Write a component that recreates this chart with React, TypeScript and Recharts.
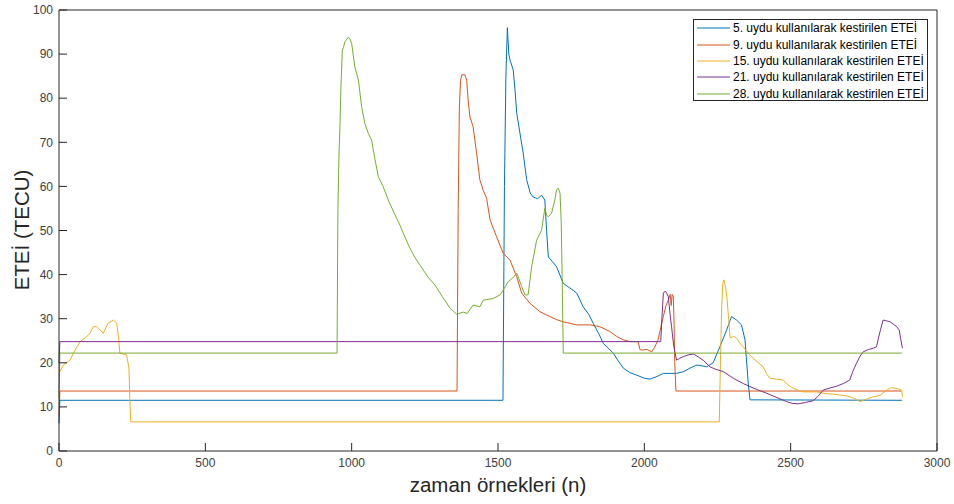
import React from 'react';
import { LineChart, Line, XAxis, YAxis, Legend, Label } from 'recharts';

type P = [number, number];

const xTicks = [0, 500, 1000, 1500, 2000, 2500, 3000];
const yTicks = [0, 10, 20, 30, 40, 50, 60, 70, 80, 90, 100];

const names = [
  '5. uydu kullanılarak kestirilen ETEİ',
  '9. uydu kullanılarak kestirilen ETEİ',
  '15. uydu kullanılarak kestirilen ETEİ',
  '21. uydu kullanılarak kestirilen ETEİ',
  '28. uydu kullanılarak kestirilen ETEİ',
];
const colors = ['#0072BD', '#D95319', '#EDB120', '#7E2F8E', '#77AC30'];

const sat5: P[] = [[0,6.3],[3,11.5],[1517,11.5],[1522,60],[1527,85],[1532,96],[1537,90],[1541,88.7],[1552,86.4],[1558,82],[1564,76.6],[1575,72.1],[1586,67.6],[1598,61.5],[1610,58.5],[1620,57.6],[1635,57.2],[1649,58],[1660,56.9],[1666,50],[1672,44],[1685,43],[1700,41.8],[1723,38],[1745,37],[1769,35.8],[1791,32.7],[1810,31],[1825,29],[1845,26.5],[1860,24.4],[1894,22.2],[1910,20.5],[1928,18.8],[1950,17.8],[1974,17.2],[2000,16.5],[2019,16.3],[2040,16.8],[2065,17.6],[2110,17.6],[2135,18],[2156,18.8],[2180,19.5],[2213,19.1],[2235,20],[2258,23.6],[2281,27.4],[2298,30.5],[2315,29.7],[2332,28.6],[2344,25.2],[2355,15.4],[2361,11.6],[2880,11.5]];

const sat9: P[] = [[0,8],[3,13.6],[1360,13.6],[1364,55],[1368,78],[1372,84],[1376,85.3],[1387,85.3],[1393,84.1],[1398,79.6],[1404,75.8],[1415,73.5],[1427,67.5],[1438,61.5],[1450,59],[1461,57.3],[1473,52.4],[1495,48.6],[1518,44.8],[1541,43.3],[1564,39.5],[1581,35.8],[1609,33.5],[1643,31.6],[1677,30.5],[1700,29.8],[1723,29.3],[1769,28.6],[1814,28.6],[1848,28.2],[1882,27.1],[1905,26],[1928,25.2],[1951,24.8],[1979,24.8],[1985,23],[1991,22.9],[2010,23],[2025,22.5],[2035,23.5],[2047,25.2],[2056,28],[2065,30.5],[2074,33],[2082,34.2],[2088,35.5],[2092,33],[2095,35.5],[2099,35],[2101,30.5],[2104,20],[2108,13.6],[2880,13.6]];

const sat15: P[] = [[0,17.5],[3,18],[15,19.5],[38,20.6],[55,22.9],[72,24.8],[89,25.6],[106,26.7],[117,28.2],[129,28.2],[140,27.5],[151,26.7],[168,29],[186,29.7],[197,29],[203,26],[208,22.2],[220,22],[231,21.8],[239,18.8],[242,12],[245,6.6],[2256,6.6],[2260,20],[2264,32],[2268,38],[2272,38.8],[2278,37],[2283,34.2],[2288,30],[2293,25.6],[2305,26],[2315,25.6],[2326,24.5],[2338,23.6],[2355,22.2],[2372,21],[2390,20],[2406,19.1],[2418,17.5],[2429,16.5],[2450,16.3],[2475,16.1],[2490,15],[2509,14.2],[2525,13.8],[2543,13.4],[2589,13.4],[2620,13],[2646,12.9],[2691,12.5],[2715,12],[2737,11.2],[2760,11.8],[2782,12.3],[2805,12.6],[2828,13.8],[2845,14.4],[2862,14.2],[2879,13.8],[2882,12.3]];

const sat21: P[] = [[0,20],[3,24.8],[2056,24.8],[2060,30],[2065,35.8],[2070,36.2],[2074,36.1],[2082,35],[2088,31],[2093,28.2],[2100,24],[2110,20.6],[2120,21],[2133,21.4],[2150,21.8],[2168,22],[2185,21.3],[2201,20.6],[2224,19.1],[2245,18.5],[2270,18],[2304,16.5],[2338,15.3],[2361,14.6],[2390,13.8],[2418,13.1],[2450,12.2],[2486,11.2],[2505,10.8],[2526,10.7],[2550,11],[2577,11.4],[2595,12.5],[2611,13.8],[2635,14.3],[2657,14.7],[2680,15.3],[2702,16.1],[2712,18],[2725,19.9],[2737,21.5],[2748,22.5],[2765,23],[2782,23.3],[2793,23.6],[2805,27],[2816,29.7],[2828,29.5],[2839,29.3],[2850,28.8],[2862,28.2],[2871,27.4],[2877,25],[2882,23.3]];

const sat28: P[] = [[0,12],[3,22.2],[950,22.2],[953,55],[957,68],[960,73.5],[963,81.9],[968,90.9],[972,91.5],[977,92.8],[988,93.8],[994,93.5],[1000,92.4],[1011,87.1],[1023,84.1],[1034,78.1],[1045,74.3],[1057,72],[1068,70.5],[1080,66],[1091,62.2],[1108,59.9],[1125,56.9],[1145,54],[1165,51.2],[1182,48.5],[1199,46],[1215,44],[1233,42.2],[1260,39.5],[1285,37.6],[1310,35],[1336,32.4],[1359,31],[1381,31.5],[1395,31.2],[1415,33.1],[1438,32.7],[1450,34.2],[1484,34.6],[1507,35.4],[1518,36.5],[1535,38.4],[1550,39.2],[1564,40.3],[1569,39.5],[1581,37.3],[1592,35.4],[1603,35.4],[1615,41.8],[1632,47.8],[1649,50.1],[1660,55],[1666,53.5],[1672,53.1],[1683,53.9],[1694,56.9],[1700,59.2],[1706,59.6],[1712,58.4],[1716,52],[1719,40],[1723,22.2],[2880,22.2]];

const seriesData = [sat5, sat9, sat15, sat21, sat28].map((s) => s.map(([x, y]) => ({ x, y })));

const FONT = '"Liberation Sans", Arial, Helvetica, sans-serif';
const AX = '#262626';
const TXT = '#404040';
const tickText = { fill: TXT, fontSize: 12, fontFamily: FONT };
const tickLn = { stroke: AX, strokeWidth: 1 };
const NoLabel = () => <g />;

const LegendBox = () => (
  <div
    style={{
      background: '#fff',
      border: `1px solid ${AX}`,
      width: 235,
      height: 82,
      boxSizing: 'border-box',
      padding: '0px 0 0 3px',
      fontFamily: FONT,
      fontSize: 12,
      color: '#000',
    }}
  >
    {names.map((n, i) => (
      <div key={n} style={{ display: 'flex', alignItems: 'center', height: 16.4, whiteSpace: 'nowrap' }}>
        <svg width={36} height={4} style={{ display: 'block' }}>
          <line x1={0} y1={2} x2={33} y2={2} stroke={colors[i]} strokeWidth={1} />
        </svg>
        <span>{n}</span>
      </div>
    ))}
  </div>
);

export default function App() {
  return (
    <div style={{ position: 'absolute', left: 0, top: 0, width: 954, height: 504, background: '#fff' }}>
      <LineChart width={954} height={504} margin={{ top: 9, right: 16, bottom: 23, left: 19 }}>
        <XAxis
          xAxisId="b"
          dataKey="x"
          type="number"
          domain={[0, 3000]}
          ticks={xTicks}
          interval={0}
          height={30}
          tickSize={-8}
          tickMargin={15}
          tickLine={tickLn}
          axisLine={{ stroke: AX }}
          tick={tickText}
        >
          <Label
            content={() => (
              <text x={498} y={492} textAnchor="middle" fill={AX} fontSize={20.5} fontFamily={FONT}>
                zaman örnekleri (n)
              </text>
            )}
          />
        </XAxis>
        <XAxis
          xAxisId="t"
          orientation="top"
          dataKey="x"
          type="number"
          domain={[0, 3000]}
          ticks={xTicks}
          interval={0}
          height={1}
          tickSize={-8}
          tickLine={tickLn}
          axisLine={{ stroke: AX }}
          tick={NoLabel}
        />
        <YAxis
          yAxisId="l"
          type="number"
          domain={[0, 100]}
          ticks={yTicks}
          interval={0}
          width={40}
          tickSize={-8}
          tickMargin={14}
          tickLine={tickLn}
          axisLine={{ stroke: AX }}
          tick={tickText}
        >
          <Label
            content={() => (
              <text
                x={0}
                y={0}
                transform="translate(29,230) rotate(-90)"
                textAnchor="middle"
                fill={AX}
                fontSize={20.5}
                fontFamily={FONT}
              >
                ETEİ (TECU)
              </text>
            )}
          />
        </YAxis>
        <YAxis
          yAxisId="r"
          orientation="right"
          type="number"
          domain={[0, 100]}
          ticks={yTicks}
          interval={0}
          width={1}
          tickSize={-8}
          tickLine={tickLn}
          axisLine={{ stroke: AX }}
          tick={NoLabel}
        />
        {seriesData.map((d, i) => (
          <Line
            key={names[i]}
            xAxisId="b"
            yAxisId="l"
            data={d}
            dataKey="y"
            name={names[i]}
            stroke={colors[i]}
            strokeWidth={1}
            dot={false}
            activeDot={false}
            type="linear"
            isAnimationActive={false}
          />
        ))}
        <Legend
          layout="vertical"
          align="center"
          verticalAlign="middle"
          content={LegendBox}
          wrapperStyle={{ position: 'absolute', left: 693, top: 19, width: 235, height: 82 }}
        />
      </LineChart>
    </div>
  );
}
